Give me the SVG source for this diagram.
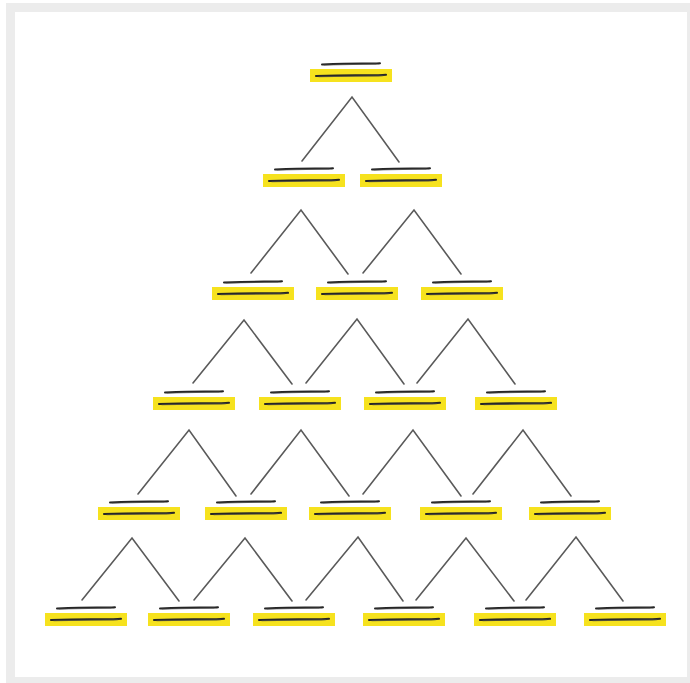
<svg xmlns="http://www.w3.org/2000/svg" xmlns:xlink="http://www.w3.org/1999/xlink" width="690" height="683" viewBox="0 0 690 683">
  <style>
    .bar { fill: #f6e21e; }
    .ink { fill: none; stroke: #262626; stroke-linecap: round; }
    .ink-soft { fill: none; stroke: #444; stroke-linecap: round; stroke-opacity: 0.7; }
    .conn { fill: none; stroke: #5a5a5a; stroke-width: 1.6; stroke-linecap: round; stroke-linejoin: miter; }
  </style>
  <defs>
    <g id="ns">
      <rect class="bar" x="0" y="0" width="82" height="13"/>
      <path class="ink" stroke-width="2.1" d="M6,7 Q30,6.2 50,6.3 T76,5.8"/>
      <path class="ink-soft" stroke-width="1.1" d="M9,7.7 Q40,7.2 73,6.6"/>
      <path class="ink" stroke-width="2" d="M12,-4.6 Q35,-5.3 52,-5.4 T70,-5.8"/>
      <path class="ink-soft" stroke-width="1" d="M14,-3.9 Q40,-4.4 66,-5"/>
    </g>
  </defs>
  <rect x="0" y="0" width="690" height="683" fill="#ffffff"/>
  <rect x="6" y="3" width="684" height="680" fill="#ececec"/>
  <rect x="15" y="12" width="672" height="665" fill="#ffffff"/>

  <g id="connectors">
    <path class="conn" d="M302,161 L352,97 L399,162"/>
    <path class="conn" d="M251,273 L301,210 L348,274"/>
    <path class="conn" d="M363,273 L414,210 L461,274"/>
    <path class="conn" d="M193,383 L244,320 L292,384"/>
    <path class="conn" d="M306,383 L357,319 L404,384"/>
    <path class="conn" d="M417,383 L468,319 L515,384"/>
    <path class="conn" d="M138,494 L189,430 L236,496"/>
    <path class="conn" d="M251,494 L301,430 L349,496"/>
    <path class="conn" d="M363,494 L413,430 L461,496"/>
    <path class="conn" d="M473,494 L523,430 L571,496"/>
    <path class="conn" d="M82,600 L132,538 L179,601"/>
    <path class="conn" d="M194,600 L245,538 L292,601"/>
    <path class="conn" d="M306,600 L358,537 L403,601"/>
    <path class="conn" d="M416,600 L466,538 L514,601"/>
    <path class="conn" d="M526,600 L576,537 L623,601"/>
  </g>

  <g id="n0-0" transform="translate(310,69)"><use href="#ns" xlink:href="#ns"/></g>

  <g id="n1-0" transform="translate(263,174)"><use href="#ns" xlink:href="#ns"/></g>
  <g id="n1-1" transform="translate(360,174)"><use href="#ns" xlink:href="#ns"/></g>

  <g id="n2-0" transform="translate(212,287)"><use href="#ns" xlink:href="#ns"/></g>
  <g id="n2-1" transform="translate(316,287)"><use href="#ns" xlink:href="#ns"/></g>
  <g id="n2-2" transform="translate(421,287)"><use href="#ns" xlink:href="#ns"/></g>

  <g id="n3-0" transform="translate(153,397)"><use href="#ns" xlink:href="#ns"/></g>
  <g id="n3-1" transform="translate(259,397)"><use href="#ns" xlink:href="#ns"/></g>
  <g id="n3-2" transform="translate(364,397)"><use href="#ns" xlink:href="#ns"/></g>
  <g id="n3-3" transform="translate(475,397)"><use href="#ns" xlink:href="#ns"/></g>

  <g id="n4-0" transform="translate(98,507)"><use href="#ns" xlink:href="#ns"/></g>
  <g id="n4-1" transform="translate(205,507)"><use href="#ns" xlink:href="#ns"/></g>
  <g id="n4-2" transform="translate(309,507)"><use href="#ns" xlink:href="#ns"/></g>
  <g id="n4-3" transform="translate(420,507)"><use href="#ns" xlink:href="#ns"/></g>
  <g id="n4-4" transform="translate(529,507)"><use href="#ns" xlink:href="#ns"/></g>

  <g id="n5-0" transform="translate(45,613)"><use href="#ns" xlink:href="#ns"/></g>
  <g id="n5-1" transform="translate(148,613)"><use href="#ns" xlink:href="#ns"/></g>
  <g id="n5-2" transform="translate(253,613)"><use href="#ns" xlink:href="#ns"/></g>
  <g id="n5-3" transform="translate(363,613)"><use href="#ns" xlink:href="#ns"/></g>
  <g id="n5-4" transform="translate(474,613)"><use href="#ns" xlink:href="#ns"/></g>
  <g id="n5-5" transform="translate(584,613)"><use href="#ns" xlink:href="#ns"/></g>
</svg>
